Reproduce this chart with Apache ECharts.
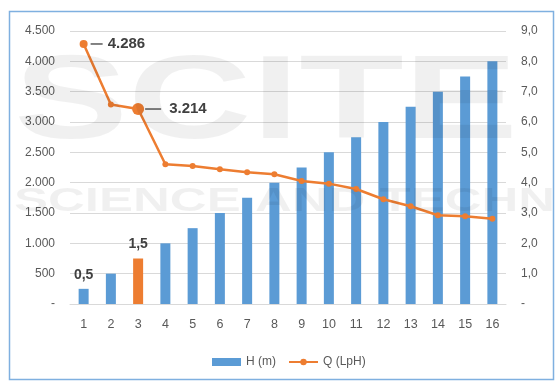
<!DOCTYPE html>
<html>
<head>
<meta charset="utf-8">
<script src="https://cdn.jsdelivr.net/npm/echarts@6/dist/echarts.min.js"></script>
<style>
  html, body { margin: 0; padding: 0; background: #ffffff; }
  #chart { width: 557px; height: 383px; }
</style>
</head>
<body>
<div id="chart"></div>
<script>
// Categories (step number)
const categories = ['1','2','3','4','5','6','7','8','9','10','11','12','13','14','15','16'];
// H (m) bars, right axis
const hValues = [0.5, 1.0, 1.5, 2.0, 2.5, 3.0, 3.5, 4.0, 4.5, 5.0, 5.5, 6.0, 6.5, 7.0, 7.5, 8.0];
// Q (LpH) line, left axis
const qValues = [4286, 3290, 3214, 2303, 2275, 2221, 2171, 2138, 2028, 1984, 1896, 1726, 1611, 1463, 1446, 1407];
// Points with value labels
const hLabelled = [0, 2];
const qLabelled = [0, 2];
const hHighlight = 2;

const BLUE = '#5B9BD5';
const ORANGE = '#ED7D31';
const TEXT = '#595959';
const FONT = '"Liberation Sans", "DejaVu Sans", sans-serif';

function thousands(v) {
  return Math.round(v).toString().replace(/\B(?=(\d{3})+(?!\d))/g, '.');
}
function decimalComma(v) {
  return v.toFixed(1).replace('.', ',');
}

const barData = hValues.map((v, i) => {
  const item = { value: v };
  if (i === hHighlight) item.itemStyle = { color: ORANGE };
  if (hLabelled.includes(i)) {
    item.label = {
      show: true, position: 'top', distance: 7,
      formatter: p => decimalComma(p.value),
      fontFamily: FONT, fontSize: 14, fontWeight: 'bold', color: '#404040'
    };
  }
  return item;
});

const lineData = qValues.map((v, i) => {
  const item = { value: v };
  if (qLabelled.includes(i)) {
    const big = i === 2;
    item.symbolSize = big ? 12 : 8;
    item.label = {
      show: true, position: 'right', distance: big ? 1 : 3,
      formatter: p => '{l|}{v|' + thousands(p.value) + '}',
      rich: {
        l: { width: big ? 16 : 12, height: 1.5, backgroundColor: '#595959' },
        v: { fontFamily: FONT, fontSize: 15, fontWeight: 'bold', color: '#404040',
             padding: [0, 0, 0, big ? 8 : 5] }
      }
    };
  }
  return item;
});

const chart = echarts.init(document.getElementById('chart'), null, { renderer: 'canvas' });
chart.setOption({
  animation: false,
  backgroundColor: '#ffffff',
  textStyle: { fontFamily: FONT },
  grid: { left: 70, right: 51, top: 31, bottom: 79 },
  legend: {
    left: 207, top: 351,
    itemWidth: 29, itemHeight: 8, itemGap: 12,
    textStyle: { color: TEXT, fontSize: 12, fontFamily: FONT },
    data: [{ name: 'H (m)', icon: 'rect' }, { name: 'Q (LpH)' }]
  },
  xAxis: {
    type: 'category',
    data: categories,
    axisTick: { show: false },
    axisLine: { lineStyle: { color: '#d9d9d9', width: 1 } },
    axisLabel: { color: TEXT, fontSize: 12.5, margin: 14, fontFamily: FONT }
  },
  yAxis: [
    {
      type: 'value', min: 0, max: 4500, interval: 500,
      axisLine: { show: false }, axisTick: { show: false },
      splitLine: { lineStyle: { color: '#d9d9d9', width: 1 } },
      axisLabel: { color: TEXT, fontSize: 12, margin: 15, fontFamily: FONT,
                   formatter: v => v === 0 ? '-' : thousands(v) }
    },
    {
      type: 'value', min: 0, max: 9, interval: 1,
      axisLine: { show: false }, axisTick: { show: false },
      splitLine: { show: false },
      axisLabel: { color: TEXT, fontSize: 12, margin: 15, fontFamily: FONT,
                   formatter: v => v === 0 ? '-' : decimalComma(v) }
    }
  ],
  series: [
    {
      name: 'H (m)', type: 'bar', yAxisIndex: 1,
      barWidth: 10,
      itemStyle: { color: BLUE },
      data: barData
    },
    {
      name: 'Q (LpH)', type: 'line', yAxisIndex: 0,
      symbol: 'circle', symbolSize: 6,
      lineStyle: { color: ORANGE, width: 2.5 },
      itemStyle: { color: ORANGE },
      data: lineData
    }
  ],
  graphic: [
    {
      type: 'rect', z: 100, silent: true,
      shape: { x: 9.5, y: 11.5, width: 544, height: 368 },
      style: { fill: null, stroke: '#7fb0e0', lineWidth: 1.5 }
    },
    {
      type: 'text', z: 90, silent: true, left: 14, top: 46, scaleX: 1.45,
      style: { text: 'SCITE', font: 'bold 118px "Liberation Sans", sans-serif', fill: 'rgba(0,0,0,0.06)' }
    },
    {
      type: 'text', z: 90, silent: true, left: 14, top: 185, scaleX: 1.5,
      style: { text: 'SCIENCE AND TECHNOLOGY', font: 'bold 34px "Liberation Sans", sans-serif', fill: 'rgba(0,0,0,0.06)' }
    }
  ]
});
</script>
</body>
</html>
